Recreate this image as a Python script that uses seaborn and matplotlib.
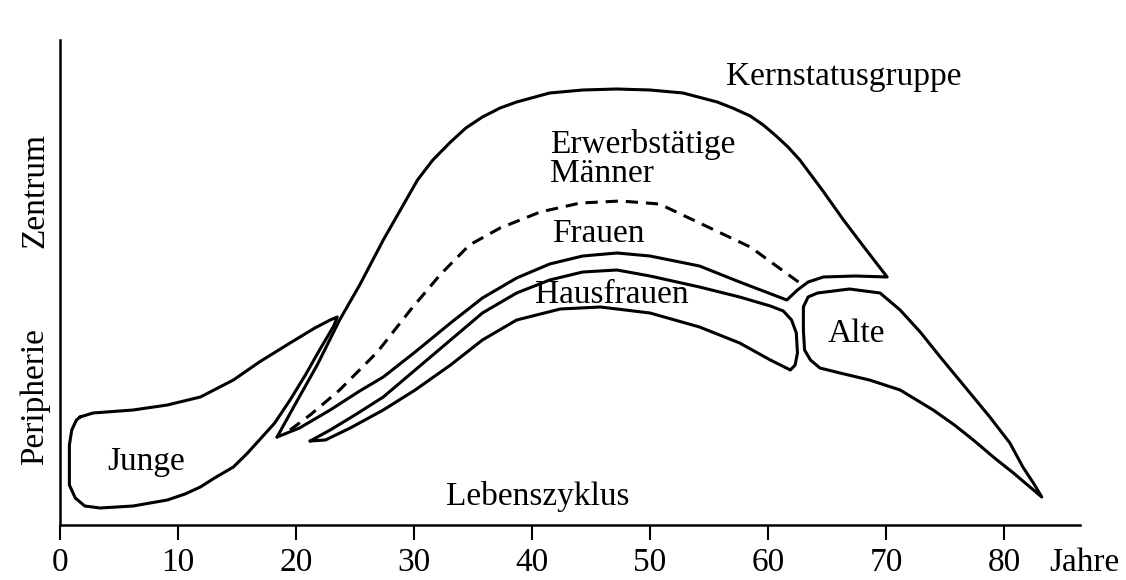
import seaborn as sns
from matplotlib import pyplot as plt

# outlines: x in years, y in arbitrary "centrality" units
kern_x = [18.4, 19.9, 21.8, 23.7, 25.4, 27.4, 30.3, 31.6, 33.1, 34.4, 35.8, 37.3, 38.7, 41.5, 44.3,
          47.2, 50.0, 52.8, 55.7, 57.0, 58.5, 59.6, 60.6, 61.7, 62.7, 64.6, 66.4, 68.2, 70.1,
          67.4, 64.7, 63.4, 62.5, 61.6,
          57.6, 54.2, 50.0, 47.2, 44.3, 41.5, 38.7, 35.8, 33.1, 30.1, 27.4, 25.4, 22.9, 20.3, 18.4]
kern_y = [8.8, 12.0, 16.0, 20.5, 24.0, 28.5, 34.5, 36.5, 38.3, 39.7, 40.8, 41.7, 42.3, 43.2, 43.5,
          43.6, 43.5, 43.2, 42.3, 41.7, 40.9, 40.0, 39.0, 37.8, 36.5, 33.5, 30.5, 27.7, 24.8,
          24.9, 24.8, 24.3, 23.5, 22.5,
          24.3, 25.9, 26.9, 27.2, 26.9, 26.1, 24.7, 22.7, 20.2, 17.3, 14.8, 13.4, 11.5, 9.7, 8.8]

maenner_x = [19.5, 21.2, 23.7, 26.9, 29.7, 32.2, 34.7, 37.3, 40.7, 44.1, 47.5, 50.8, 54.2, 58.5, 62.7]
maenner_y = [9.5, 11.0, 13.5, 17.3, 21.5, 25.0, 28.0, 29.7, 31.3, 32.2, 32.4, 32.1, 30.2, 27.8, 24.2]

haus_x = [21.2, 22.9, 25.0, 27.4, 30.1, 33.1, 35.8, 38.7, 41.5, 44.3, 47.2, 50.0, 54.2, 57.6, 60.2,
          61.3, 62.0, 62.4, 62.5, 62.3, 61.9, 60.2, 57.6, 54.2, 50.0, 45.8, 42.4, 38.7, 35.8,
          33.1, 30.1, 27.4, 24.6, 22.5, 21.2]
haus_y = [8.4, 9.5, 11.0, 12.8, 15.5, 18.5, 21.2, 23.2, 24.5, 25.3, 25.5, 24.9, 23.8, 22.8, 21.9,
          21.4, 20.5, 19.2, 17.2, 16.0, 15.5, 16.5, 18.2, 19.8, 21.2, 21.8, 21.6, 20.5, 18.5,
          16.0, 13.5, 11.5, 9.7, 8.5, 8.4]

junge_x = [1.7, 2.8, 6.2, 9.1, 11.9, 14.7, 16.9, 19.5, 21.6, 22.9, 23.5, 23.2, 22.0, 20.8, 19.5,
           18.2, 16.9, 15.9, 14.7, 13.1, 11.9, 10.6, 9.1, 6.2, 3.4, 2.1, 1.3, 0.8, 0.8, 0.8, 1.0,
           1.4, 1.7]
junge_y = [10.8, 11.2, 11.5, 12.0, 12.8, 14.5, 16.3, 18.2, 19.7, 20.5, 20.8, 19.9, 17.5, 15.0, 12.5,
           10.2, 8.5, 7.2, 5.8, 4.7, 3.8, 3.1, 2.5, 1.9, 1.7, 1.9, 2.7, 4.0, 6.0, 8.0, 9.5,
           10.5, 10.8]

alte_x = [63.0, 63.4, 64.2, 66.9, 69.5, 71.2, 72.9, 74.6, 76.7, 78.8, 80.5, 81.6, 82.6, 83.2,
          82.2, 80.8, 79.2, 77.4, 75.8, 74.0, 71.2, 68.6, 66.1, 64.4, 63.6, 63.1, 63.0, 63.0]
alte_y = [21.8, 22.8, 23.2, 23.6, 23.2, 21.5, 19.3, 16.8, 13.8, 10.8, 8.2, 5.8, 4.0, 2.8,
          3.8, 5.2, 6.7, 8.5, 10.0, 11.5, 13.5, 14.5, 15.2, 15.7, 16.5, 17.5, 19.5, 21.8]

years = [0, 10, 20, 30, 40, 50, 60, 70, 80]

sns.set_theme(style="white")
plt.rcParams['font.family'] = ['Liberation Serif', 'DejaVu Serif']
plt.rcParams['text.color'] = 'black'

fig = plt.figure(figsize=(11.26, 5.8), dpi=100)
ax = fig.add_axes([0, 0, 1, 1])
ax.set_facecolor('white')

line_kw = dict(sort=False, estimator=None, color='black', lw=2.2,
               solid_joinstyle='round', solid_capstyle='round', ax=ax)
for xs, ys in [(kern_x, kern_y), (haus_x, haus_y), (junge_x, junge_y), (alte_x, alte_y)]:
    sns.lineplot(x=xs, y=ys, **line_kw)
sns.lineplot(x=maenner_x, y=maenner_y, sort=False, estimator=None, color='black', lw=2.2,
             linestyle=(0, (4, 2.6)), ax=ax)

ax.set_xlim(-5.08, 90.34)
ax.set_ylim(-5.5, 52.5)

for side in ['top', 'right']:
    ax.spines[side].set_visible(False)
ax.spines['left'].set_position(('data', 0))
ax.spines['bottom'].set_position(('data', 0))
ax.spines['left'].set_bounds(0, 48.5)
ax.spines['bottom'].set_bounds(0, 86.4)
for side in ['left', 'bottom']:
    ax.spines[side].set_color('black')
    ax.spines[side].set_linewidth(1.8)

ax.set_xticks(years)
ax.set_xticklabels([str(y) for y in years])
ax.set_yticks([])
ax.tick_params(axis='x', direction='out', length=11, width=1.5, color='black',
               labelcolor='black', labelsize=24, pad=5, bottom=True)

fs = 24
ax.text(66.4, 44.0, "Kernstatusgruppe", fontsize=fs, ha='center', va='baseline')
ax.text(41.5, 37.2, "Erwerbstätige", fontsize=fs, ha='left', va='baseline')
ax.text(41.5, 34.3, "Männer", fontsize=fs, ha='left', va='baseline')
ax.text(45.6, 28.3, "Frauen", fontsize=fs, ha='center', va='baseline')
ax.text(46.8, 22.2, "Hausfrauen", fontsize=fs, ha='center', va='baseline')
ax.text(67.5, 18.3, "Alte", fontsize=fs, ha='center', va='baseline')
ax.text(7.3, 5.5, "Junge", fontsize=fs, ha='center', va='baseline')
ax.text(40.5, 2.0, "Lebenszyklus", fontsize=fs, ha='center', va='baseline')
ax.text(89.8, -4.6, "Jahre", fontsize=fs, ha='right', va='baseline')
ax.text(-2.1, 33.5, "Zentrum", fontsize=fs, ha='center', va='center', rotation=90)
ax.text(-2.1, 12.8, "Peripherie", fontsize=fs, ha='center', va='center', rotation=90)

plt.savefig("out.png", dpi=100, facecolor='white')
